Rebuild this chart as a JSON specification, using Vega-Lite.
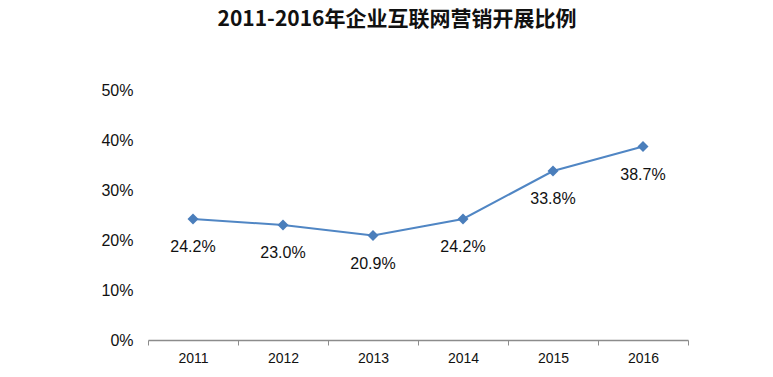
{
  "$schema": "https://vega.github.io/schema/vega-lite/v6.json",
  "autosize": {"type": "none"},
  "padding": {"left": 148, "top": 90, "right": 85, "bottom": 37},
  "width": 540,
  "height": 250,
  "background": "white",
  "title": {
    "text": "2011-2016年企业互联网营销开展比例",
    "font": "Noto Sans CJK SC",
    "fontSize": 21,
    "fontWeight": "bold",
    "color": "#111111",
    "anchor": "middle",
    "dx": -21,
    "offset": 52
  },
  "config": {"view": {"stroke": null}},
  "data": {
    "values": [
      {"year": "2011", "value": 0.242},
      {"year": "2012", "value": 0.230},
      {"year": "2013", "value": 0.209},
      {"year": "2014", "value": 0.242},
      {"year": "2015", "value": 0.338},
      {"year": "2016", "value": 0.387}
    ]
  },
  "encoding": {
    "x": {
      "field": "year",
      "type": "ordinal",
      "scale": {"type": "band", "paddingInner": 0, "paddingOuter": 0},
      "axis": {
        "title": null,
        "labelAngle": 0,
        "tickBand": "extent",
        "domainColor": "#8c8c8c",
        "tickColor": "#8c8c8c",
        "tickSize": 5,
        "domainWidth": 1.5,
        "labelFont": "Liberation Sans",
        "labelFontSize": 14,
        "labelColor": "#111111",
        "labelPadding": 6
      }
    },
    "y": {
      "field": "value",
      "type": "quantitative",
      "scale": {"domain": [0, 0.5], "nice": false},
      "axis": {
        "title": null,
        "values": [0, 0.1, 0.2, 0.3, 0.4, 0.5],
        "format": ".0%",
        "domain": false,
        "ticks": false,
        "grid": false,
        "labelFont": "Liberation Sans",
        "labelFontSize": 16,
        "labelColor": "#111111",
        "labelPadding": 15
      }
    }
  },
  "layer": [
    {"mark": {"type": "line", "color": "#5086C4", "strokeWidth": 2}},
    {"mark": {"type": "point", "shape": "diamond", "filled": true, "size": 121, "color": "#4A7EBB", "opacity": 1}},
    {
      "mark": {"type": "text", "dy": 28, "font": "Liberation Sans", "fontSize": 16, "color": "#111111"},
      "encoding": {"text": {"field": "value", "type": "quantitative", "format": ".1%"}}
    }
  ]
}
